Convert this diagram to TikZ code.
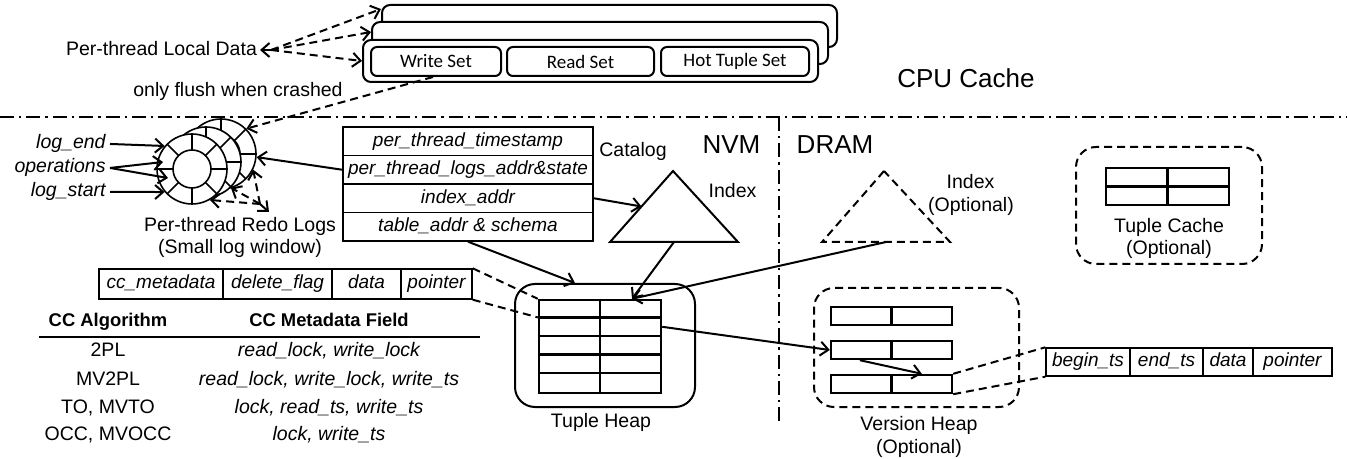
\documentclass[tikz,border=0pt]{standalone}
\usepackage{fontspec}
\setmainfont{Liberation Sans}
\newfontfamily\calfont{Carlito}
\usetikzlibrary{arrows.meta,calc}
\newcommand\logring[2]{%
  \node[circle, draw, fill=white, line width=0.8pt, minimum size=35pt, inner sep=0pt] (#1) at (#2) {};
  \foreach \ang in {0,45,...,315}{\draw[line width=0.8pt] (#1.center) ++(\ang:9.5pt) -- ++(\ang:8pt);}
  \node[circle, draw, fill=white, line width=0.8pt, minimum size=19pt, inner sep=0pt] (#1in) at (#2) {};
}
\begin{document}
\begin{tikzpicture}[x=0.5pt,y=-0.5pt,
  lbl/.style={inner sep=0pt, anchor=base, font=\fontsize{9.75pt}{11pt}\selectfont},
  ilbl/.style={lbl, font=\fontsize{9.75pt}{11pt}\selectfont\itshape},
  hdr/.style={lbl, font=\fontsize{9.2pt}{11pt}\selectfont\bfseries},
  biglbl/.style={inner sep=0pt, anchor=base, font=\fontsize{13pt}{15pt}\selectfont},
  cell/.style={draw, line width=0.7pt, inner sep=0pt, font=\fontsize{9.5pt}{11pt}\selectfont\itshape, text height=7pt, text depth=2.2pt},
  setbox/.style={draw, line width=1pt, rounded corners=3pt, inner sep=0pt, minimum height=14.5pt, font=\calfont\fontsize{9.5pt}{11pt}\selectfont},
  stackbox/.style={draw, fill=white, line width=1pt, rounded corners=4pt, minimum width=227.5pt, minimum height=21pt, inner sep=0pt},
  grid/.style={draw, line width=1.2pt, inner sep=0pt},
  gline/.style={line width=1.2pt},
  arr/.style={line width=1pt, -{Straight Barb[length=4pt,width=7pt]}},
  dsh/.style={line width=1pt, dash pattern=on 4pt off 2.5pt},
  darr/.style={dsh, -{Straight Barb[length=4pt,width=7pt]}},
  dashdot/.style={line width=1pt, dash pattern=on 7pt off 2.5pt on 1.2pt off 2.5pt},
  optbox/.style={draw, dsh, rounded corners=10pt, inner sep=0pt},
]
\path[use as bounding box] (0,0) rectangle (1347,459);

% ---------- CPU cache: per-thread local data ----------
\node[stackbox] (bk) at (609.5,26) {};
\node[stackbox, minimum width=228pt] (md) at (600,43) {};
\node[stackbox] (fr) at (590.5,61) {};
\node[setbox, minimum width=65pt] (ws) at (436,61.5) {Write Set};
\node[setbox, minimum width=73.5pt] (rs) at (580.5,61.5) {Read Set};
\node[setbox, minimum width=74pt] (hs) at (735,61.5) {Hot Tuple Set};

\node[lbl] (pld) at (161.5,56) {Per-thread Local Data};
\coordinate (fanL) at (271,50);
\coordinate (tipL) at (260,50);
\draw[darr] (fanL) -- ($(bk.north west)+(0,5)$);
\draw[darr] (fanL) -- ($(md.north west)+(0,11)$);
\draw[darr] (fanL) -- (fr.west);
\draw[arr] (fanL) -- (tipL);

\node[lbl] (flush) at (238,97) {only flush when crashed};
\node[biglbl] (cpu) at (966,88) {CPU Cache};

% ---------- separators ----------
\coordinate (hl) at (0,117);
\coordinate (hr) at (1347,117);
\draw[dashdot] (hl) -- (hr);
\coordinate (vt) at (779,117);
\coordinate (vb) at (779,423);
\draw[dashdot] (vt) -- (vb);
\node[biglbl] (nvm) at (731.5,154) {NVM};
\node[biglbl] (dram) at (835,154) {DRAM};

% ---------- redo logs ----------
\logring{r3}{221,154}
\logring{r2}{206,162}
\logring{r1}{192,169}
\draw[darr] ($(ws.south)+(-3,0)$) -- (r3.45);

\node[ilbl, anchor=base east] (lend) at (106,149) {log\_end};
\node[ilbl, anchor=base east] (ops) at (106,173) {operations};
\node[ilbl, anchor=base east] (lst) at (106,197) {log\_start};
\draw[arr] ([xshift=2pt]lend.east) -- (r1.140);
\draw[arr] ([xshift=2pt]ops.east) -- ($(r1.center)+(-29,-7)$);
\draw[arr] ([xshift=2pt]ops.east) -- ($(r1.center)+(-24,9)$);
\draw[arr] ([xshift=2pt]lst.east) -- (r1.220);

\node[lbl] (redo1) at (240,232) {Per-thread Redo Logs};
\node[lbl] (redo2) at (240,254) {(Small log window)};
\coordinate (fanR) at (260,204);
\coordinate (tipR) at (269,212);
\draw[darr] (fanR) -- (r1.-60);
\draw[darr] (fanR) -- (r2.-46);
\draw[darr] (fanR) -- (r3.-26);
\draw[arr] (fanR) -- (tipR);

% ---------- catalog ----------
\node[cell, minimum width=125pt, minimum height=14.25pt] (cat1) at (468,141.25) {per\_thread\_timestamp};
\node[cell, minimum width=125pt, minimum height=14.25pt] (cat2) at (468,169.75) {per\_thread\_logs\_addr\&state};
\node[cell, minimum width=125pt, minimum height=14.25pt] (cat3) at (468,198.25) {index\_addr};
\node[cell, minimum width=125pt, minimum height=14.25pt] (cat4) at (468,226.75) {table\_addr \& schema};
\node[lbl] (catl) at (633,157) {Catalog};
\draw[arr] (cat2.west) -- (r3.-5);

% ---------- NVM index ----------
\coordinate (ia) at (673,171);
\coordinate (ibl) at (610,242);
\coordinate (ibr) at (738,242);
\draw[line width=1pt] (ia) -- (ibl) -- (ibr) -- cycle;
\node[lbl] (nidx) at (732.5,198) {Index};
\draw[arr] (cat3.east) -- ($(ia)!0.5!(ibl)$);

% ---------- tuple heap ----------
\node[draw, line width=1pt, rounded corners=10pt, minimum width=90pt, minimum height=61.5pt, inner sep=0pt] (th) at (605,345.5) {};
\node[grid, minimum width=61pt, minimum height=46.5pt] (tt) at (600,346.5) {};
\draw[gline] (tt.north) -- (tt.south);
\foreach \k in {1,2,3,4} \draw[gline] ($(tt.north west)+(0,18.6*\k)$) -- ($(tt.north east)+(0,18.6*\k)$);
\node[lbl] (thl) at (601,427) {Tuple Heap};
\draw[arr] (cat4.south) -- ($(th.north)+(-30,0)$);
\draw[arr] ($(ibl)!0.5!(ibr)$) -- ($(tt.north)+(32,0)$);

% ---------- DRAM index ----------
\coordinate (da) at (884,171);
\coordinate (dbl) at (822,242);
\coordinate (dbr) at (950,242);
\draw[dsh] (da) -- (dbl) -- (dbr) -- cycle;
\node[lbl] (didx1) at (970.5,189) {Index};
\node[lbl] (didx2) at (971,212) {(Optional)};
\draw[arr] ($(dbl)!0.5!(dbr)$) -- ($(tt.north)+(32,0)$);

% ---------- tuple cache ----------
\node[optbox, minimum width=93pt, minimum height=58.5pt] (tcb) at (1169,205.5) {};
\node[grid, minimum width=61.5pt, minimum height=18.5pt] (tc) at (1167.5,186.5) {};
\draw[gline] (tc.north) -- (tc.south);
\draw[gline] (tc.west) -- (tc.east);
\node[lbl] (tcl1) at (1169,233) {Tuple Cache};
\node[lbl] (tcl2) at (1169,255) {(Optional)};

% ---------- version heap ----------
\node[optbox, minimum width=102.5pt, minimum height=59.5pt] (vhb) at (916.5,347.5) {};
\node[grid, minimum width=60.5pt, minimum height=9pt] (vr1) at (891.5,316) {};
\node[grid, minimum width=60.5pt, minimum height=9pt] (vr2) at (891.5,350) {};
\node[grid, minimum width=60.5pt, minimum height=9pt] (vr3) at (891.5,384) {};
\draw[gline] (vr1.north) -- (vr1.south);
\draw[gline] (vr2.north) -- (vr2.south);
\draw[gline] (vr3.north) -- (vr3.south);
\node[lbl] (vhl1) at (919,430) {Version Heap};
\node[lbl] (vhl2) at (919,453) {(Optional)};
\draw[arr] ($(tt.north east)+(0,28)$) -- (vr2.west);
\draw[arr] ($(vr2.south west)+(30,0)$) -- ($(vr3.north west)+(92,0)$);

% ---------- version record ----------
\node[cell, minimum width=42pt, minimum height=14pt] (bt1) at (1088,362) {begin\_ts};
\node[cell, minimum width=36.5pt, minimum height=14pt] (bt2) at (1166.5,362) {end\_ts};
\node[cell, minimum width=25pt, minimum height=14pt] (bt3) at (1228,362) {data};
\node[cell, minimum width=39.5pt, minimum height=14pt] (bt4) at (1292.5,362) {pointer};
\draw[dsh] (vr3.north east) -- (bt1.north west);
\draw[dsh] (vr3.south east) -- (bt1.south west);

% ---------- tuple record ----------
\node[cell, minimum width=62pt, minimum height=15pt] (cc1) at (161,284) {cc\_metadata};
\node[cell, minimum width=54.5pt, minimum height=15pt] (cc2) at (277.5,284) {delete\_flag};
\node[cell, minimum width=34.5pt, minimum height=15pt] (cc3) at (366.5,284) {data};
\node[cell, minimum width=35.5pt, minimum height=15pt] (cc4) at (436.5,284) {pointer};
\draw[dsh] (cc4.north east) -- (tt.north west);
\draw[dsh] (cc4.south east) -- ($(tt.north west)+(0,18.6)$);

% ---------- CC table ----------
\node[hdr] (h1) at (108,327) {CC Algorithm};
\node[hdr] (h2) at (329,327) {CC Metadata Field};
\coordinate (rl) at (39,337);
\coordinate (rr) at (480,337);
\draw[line width=0.75pt] (rl) -- (rr);
\node[lbl] (a1) at (108,357) {2PL};
\node[ilbl] (b1) at (329,357) {read\_lock, write\_lock};
\node[lbl] (a2) at (108,385) {MV2PL};
\node[ilbl] (b2) at (329,385) {read\_lock, write\_lock, write\_ts};
\node[lbl] (a3) at (108,413) {TO, MVTO};
\node[ilbl] (b3) at (329,413) {lock, read\_ts, write\_ts};
\node[lbl] (a4) at (108,440) {OCC, MVOCC};
\node[ilbl] (b4) at (329,440) {lock, write\_ts};
\end{tikzpicture}
\end{document}
